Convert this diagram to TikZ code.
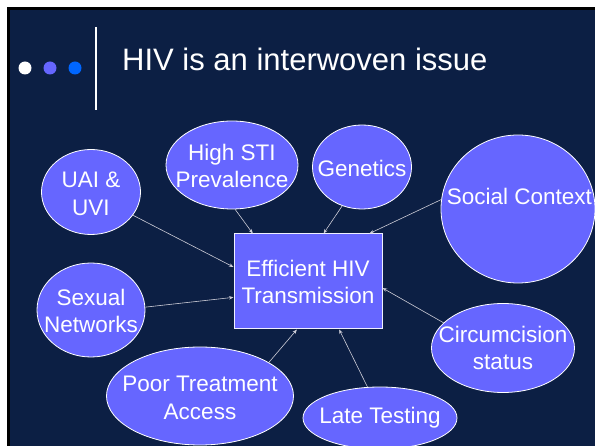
\documentclass[tikz,border=0pt]{standalone}
\usepackage{fontspec}
\setmainfont{Liberation Sans}
\usetikzlibrary{shapes.geometric,arrows.meta}
\definecolor{slidebg}{RGB}{12,31,68}
\definecolor{blobfill}{RGB}{102,102,255}
\definecolor{dotblue}{RGB}{0,102,255}
\definecolor{linkgray}{RGB}{205,205,215}
\tikzset{
  blob/.style={ellipse, draw=white, line width=0.8pt, fill=blobfill, inner sep=0pt},
  hub/.style={rectangle, draw=white!90!blobfill, line width=1pt, fill=blobfill, inner sep=0pt},
  lbl/.style={text=white, align=center, inner sep=0pt, font=\fontsize{22.5}{27.5}\selectfont},
  link/.style={draw=linkgray, line width=0.6pt, -{Stealth[length=4.5pt,width=3.5pt]}},
}
\begin{document}
\begin{tikzpicture}[x=1pt,y=-1pt]
  % page and slide background
  \useasboundingbox (0,0) rectangle (595,446);
  \fill[white] (0,0) rectangle (595,446);
  \fill[black] (7,7) rectangle (595,446);
  \fill[slidebg] (10,10) rectangle (595,446);
  \clip (0,0) rectangle (595,446);

  % title bar
  \fill[white]   (25,68) circle[radius=6.5];
  \fill[blobfill](50,68) circle[radius=6.5];
  \fill[dotblue] (75,68) circle[radius=6.5];
  \draw[white, line width=2pt] (96,27) -- (96,110);
  \node[anchor=base west, text=white, inner sep=0pt, font=\fontsize{31}{36}\selectfont] (title) at (122,71) {HIV is an interwoven issue};

  % central box
  \node[hub, minimum width=148, minimum height=95] (eff) at (308,281.5) {};
  \node[lbl] (effl) at (308,282) {Efficient HIV\\Transmission};

  % surrounding factors
  \node[blob, minimum width=99,  minimum height=85]  (uai)  at (91,192)  {};
  \node[blob, minimum width=132, minimum height=88]  (sti)  at (232,165) {};
  \node[blob, minimum width=99,  minimum height=84]  (gen)  at (362,167) {};
  \node[blob, minimum width=154, minimum height=148] (soc)  at (518,209) {};
  \node[blob, minimum width=108, minimum height=94]  (sex)  at (91,310)  {};
  \node[blob, minimum width=143, minimum height=89]  (circ) at (503,348) {};
  \node[blob, minimum width=187, minimum height=98]  (poor) at (200,396) {};
  \node[blob, minimum width=154, minimum height=62]  (late) at (380,418) {};

  \node[lbl] (uail)  at (91,194)    {UAI \&\\UVI};
  \node[lbl] (stil)  at (232,166)   {High STI\\Prevalence};
  \node[lbl] (genl)  at (362,168)   {Genetics};
  \node[lbl] (socl)  at (519.5,196) {Social Context};
  \node[lbl] (sexl)  at (91,311)    {Sexual\\Networks};
  \node[lbl] (circl) at (503,348)   {Circumcision\\status};
  \node[lbl] (poorl) at (200,398)   {Poor Treatment\\Access};
  \node[lbl] (latel) at (380,418)   {Late Testing};

  % influences on transmission
  \draw[link] (uai.-29.7)  -- (eff.169.1);
  \draw[link] (sti.-86.2)  -- (eff.139.2);
  \draw[link] (gen.-117.8) -- (eff.72.5);
  \draw[link] (soc.173.3)  -- (eff.38.4);
  \draw[link] (sex.3.1)    -- (eff.192.4);
  \draw[link] (circ.157.7) -- (eff.-5.7);
  \draw[link] (poor.26.6)  -- (eff.257);
  \draw[link] (late.112.8) -- (eff.-57.7);
\end{tikzpicture}
\end{document}
